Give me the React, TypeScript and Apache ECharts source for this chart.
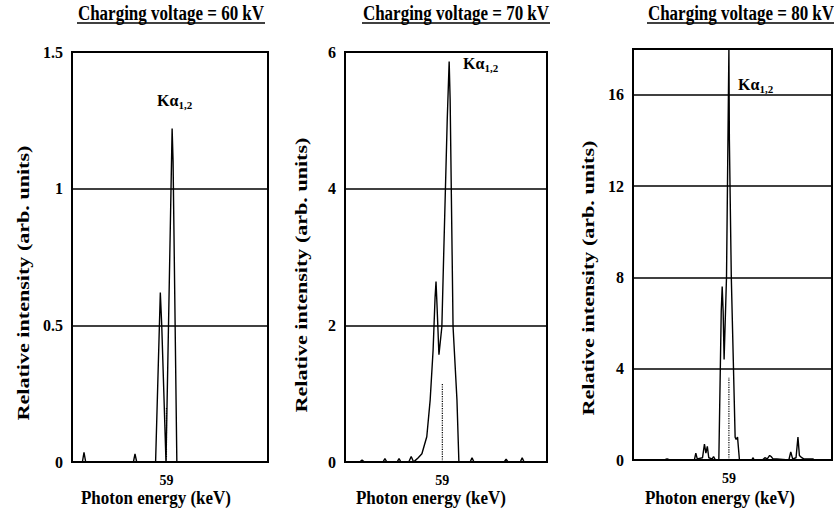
import React, { useEffect, useRef } from 'react';
import * as echarts from 'echarts';

const FONT = '"Liberation Serif", "Times New Roman", serif';

const panelTitles = ['Charging voltage = 60 kV', 'Charging voltage = 70 kV', 'Charging voltage = 80 kV'];
const yAxisTitle = 'Relative intensity (arb. units)';
const xAxisTitle = 'Photon energy (keV)';
const energyTickLabels = [59];
const energyMin = 57;
const energyMax = 61.15;
const yMaxes = [1.5, 6, 18];
const yIntervals = [0.5, 2, 4];

const spectrum60: number[][] = [
  [57, 0], [57.22, 0], [57.254, 0.035], [57.29, 0], [58.3, 0], [58.334, 0.03], [58.37, 0],
  [58.77, 0], [58.87, 0.62], [58.9, 0.5], [58.99, 0], [59.12, 1.22], [59.14, 1.1], [59.22, 0],
  [61.15, 0],
];
const spectrum70: number[][] = [
  [57, 0], [57.3, 0], [57.35, 0.03], [57.4, 0], [57.78, 0], [57.82, 0.05], [57.86, 0],
  [58.07, 0], [58.11, 0.05], [58.15, 0], [58.31, 0], [58.36, 0.08], [58.41, 0],
  [58.44, 0.02], [58.5, 0.06], [58.58, 0.12], [58.68, 0.37], [58.75, 0.91], [58.81, 1.64],
  [58.85, 2.4], [58.87, 2.64], [58.89, 2.3], [58.93, 1.57], [58.99, 1.98], [59.03, 3.1],
  [59.1, 5.0], [59.14, 5.86], [59.16, 5.3], [59.22, 1.98], [59.3, 0.91], [59.34, 0],
  [59.57, 0], [59.61, 0.06], [59.65, 0], [60.27, 0], [60.31, 0.04], [60.35, 0],
  [60.6, 0], [60.64, 0.06], [60.68, 0], [61.15, 0],
];
const spectrum80: number[][] = [
  [57, 0], [57.65, 0], [57.71, 0.05], [57.77, 0], [58.28, 0], [58.31, 0.3], [58.34, 0.05],
  [58.45, 0.1], [58.49, 0.7], [58.52, 0.3], [58.55, 0.6], [58.58, 0.1], [58.65, 0.05],
  [58.68, 0.15], [58.72, 0], [58.79, 0], [58.84, 6.5], [58.86, 7.6], [58.88, 6.5], [58.9, 4.4],
  [58.95, 8], [59.0, 18], [59.01, 14], [59.05, 8], [59.13, 1.0], [59.15, 0.9], [59.18, 1.0],
  [59.22, 0], [59.48, 0], [59.5, 0.1], [59.53, 0], [59.7, 0], [59.75, 0.1], [59.8, 0.05],
  [59.85, 0.2], [59.88, 0.15], [59.92, 0.05], [60.0, 0.05], [60.25, 0], [60.29, 0.35],
  [60.33, 0.05], [60.4, 0.1], [60.44, 1.0], [60.47, 0.2], [60.52, 0.1], [60.56, 0.05],
  [60.75, 0.05], [60.78, 0], [61.15, 0],
];
const markerEnergy = 59;
const markerHeights = [0.2, 1.15, 3.6];

const spectra = [spectrum60, spectrum70, spectrum80];

const grids = [
  { left: 72, top: 52, width: 196, height: 410 },
  { left: 345, top: 52, width: 202, height: 410 },
  { left: 633, top: 49, width: 199, height: 411 },
];

const titleCenters = [171, 456, 741];
const titleHalf = 94;
const yTitlePos = [[23, 283], [301, 275], [588, 278]];
const xTitleCenters = [156, 431, 720];
const kaPos = [[157, 100], [463, 63], [738, 84]];

export default function App() {
  const ref = useRef<HTMLDivElement>(null);
  useEffect(() => {
    if (!ref.current) return;
    const chart = echarts.init(ref.current, null, { renderer: 'svg' });
    const graphic: any[] = [];
    panelTitles.forEach((t, i) => {
      graphic.push({
        type: 'text', x: titleCenters[i], y: 13, scaleY: 1.2,
        style: { text: t, font: `bold 17px ${FONT}`, fill: '#000', align: 'center', verticalAlign: 'middle' },
      });
      graphic.push({
        type: 'line', shape: { x1: titleCenters[i] - titleHalf, y1: 23, x2: titleCenters[i] + titleHalf, y2: 23 },
        style: { stroke: '#000', lineWidth: 1.5 },
      });
      graphic.push({
        type: 'text', x: yTitlePos[i][0], y: yTitlePos[i][1], rotation: Math.PI / 2, scaleX: 1.3,
        style: { text: yAxisTitle, font: `bold 17px ${FONT}`, fill: '#000', align: 'center', verticalAlign: 'middle' },
      });
      graphic.push({
        type: 'text', x: xTitleCenters[i], y: 498, scaleY: 1.1,
        style: { text: xAxisTitle, font: `bold 17px ${FONT}`, fill: '#000', align: 'center', verticalAlign: 'middle' },
      });
      graphic.push({
        type: 'text', x: kaPos[i][0], y: kaPos[i][1],
        style: {
          text: '{k|Kα}{s|1,2}', align: 'left', verticalAlign: 'middle',
          rich: {
            k: { fontFamily: FONT, fontWeight: 'bold', fontSize: 16, lineHeight: 20, color: '#000' },
            s: { fontFamily: FONT, fontWeight: 'bold', fontSize: 11, lineHeight: 12, verticalAlign: 'bottom', color: '#000' },
          },
        },
      });
    });

    const option: any = {
      animation: false,
      backgroundColor: '#fff',
      grid: grids.map((g) => ({ ...g, show: true, borderColor: '#000', borderWidth: 2, backgroundColor: 'transparent' })),
      xAxis: grids.map((_, i) => ({
        type: 'value', gridIndex: i, min: energyMin, max: energyMax, interval: 1,
        axisLine: { show: false }, axisTick: { show: false }, splitLine: { show: false },
        axisLabel: {
          formatter: (v: number) => (energyTickLabels.includes(Math.round(v * 100) / 100) ? String(v) : ''),
          color: '#000', fontFamily: FONT, fontWeight: 'bold', fontSize: 14, margin: 11,
          showMinLabel: true, showMaxLabel: false,
        },
      })),
      yAxis: grids.map((_, i) => ({
        type: 'value', gridIndex: i, min: 0, max: yMaxes[i], interval: yIntervals[i],
        axisLine: { show: false }, axisTick: { show: false },
        splitLine: { show: true, lineStyle: { color: '#000', width: 1.5 } },
        axisLabel: {
          color: '#000', fontFamily: FONT, fontWeight: 'bold', fontSize: 16, margin: 9,
          showMaxLabel: i !== 2,
        },
      })),
      series: [
        ...spectra.map((d, i) => ({
          type: 'line', xAxisIndex: i, yAxisIndex: i, data: d, symbol: 'none',
          lineStyle: { color: '#000', width: 1.4 }, silent: true,
        })),
        ...markerHeights.map((h, i) => ({
          type: 'line', xAxisIndex: i, yAxisIndex: i, data: [[markerEnergy, 0], [markerEnergy, h]], symbol: 'none',
          lineStyle: { color: '#000', width: 1.2, type: 'dotted' }, silent: true,
        })),
      ],
      graphic,
    };
    chart.setOption(option);
    return () => chart.dispose();
  }, []);
  return <div ref={ref} style={{ position: 'fixed', left: 0, top: 0, width: 834, height: 511, background: '#fff' }} />;
}
